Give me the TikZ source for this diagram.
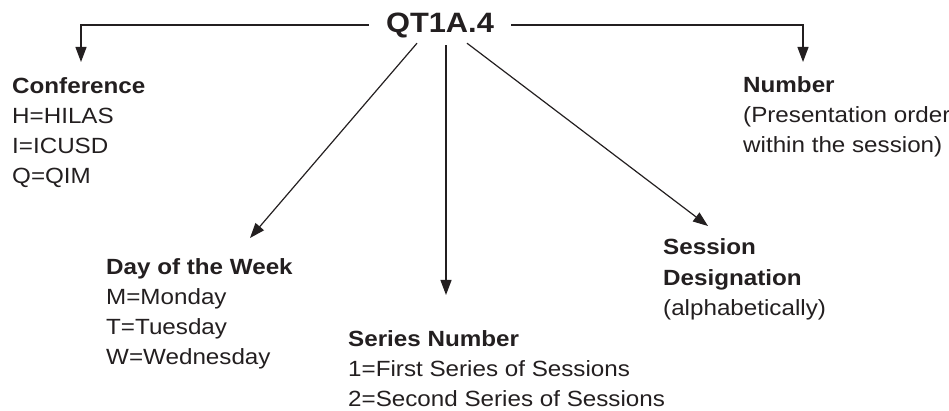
\documentclass[tikz,border=0pt]{standalone}
\usepackage{fontspec}
\setmainfont{Liberation Sans}[FakeStretch=1.1]
\usetikzlibrary{arrows.meta}
\definecolor{ink}{HTML}{231F20}
\tikzset{
  conn/.style={draw=ink, line width=1.2pt, -{Triangle[length=15pt,width=11pt]}},
  label/.style={anchor=base west, inner sep=0pt, align=left, text=ink,
    font=\fontsize{22}{30}\selectfont},
  titlebox/.style={anchor=base, inner xsep=17pt, inner ysep=0pt, text=ink,
    text height=20pt, text depth=4pt, font=\fontsize{28}{30}\selectfont\bfseries}
}
\begin{document}
\begin{tikzpicture}[x=1pt,y=-1pt]
\useasboundingbox (0,0) rectangle (949,411);
\node[titlebox] (t) at (440,33) {QT1A.4};
\coordinate (ctip) at (81,62);
\coordinate (ntip) at (803,62);
\coordinate (dtip) at (250,238);
\coordinate (stip) at (446,295);
\coordinate (ptip) at (708,226);
\draw[conn] (t.west) -| (ctip);
\draw[conn] (t.east) -| (ntip);
\draw[conn] ([shift={(-23,6)}]t.south) -- (dtip);
\draw[conn] ([shift={(6,8)}]t.south) -- (stip);
\draw[conn] ([shift={(27,6)}]t.south) -- (ptip);
% anchor base west = baseline of the last line
\node[label] (conf) at (12,184) {\textbf{Conference}\\H=HILAS\\I=ICUSD\\Q=QIM};
\node[label] (day) at (106,364) {\textbf{Day of the Week}\\M=Monday\\T=Tuesday\\W=Wednesday};
\node[label] (ser) at (348,406) {\textbf{Series Number}\\1=First Series of Sessions\\2=Second Series of Sessions};
\node[label] (ses) at (663,315) {\textbf{Session}\\\textbf{Designation}\\(alphabetically)};
\node[label] (num) at (743,153) {\textbf{Number}\\(Presentation order\\within the session)};
\end{tikzpicture}
\end{document}
